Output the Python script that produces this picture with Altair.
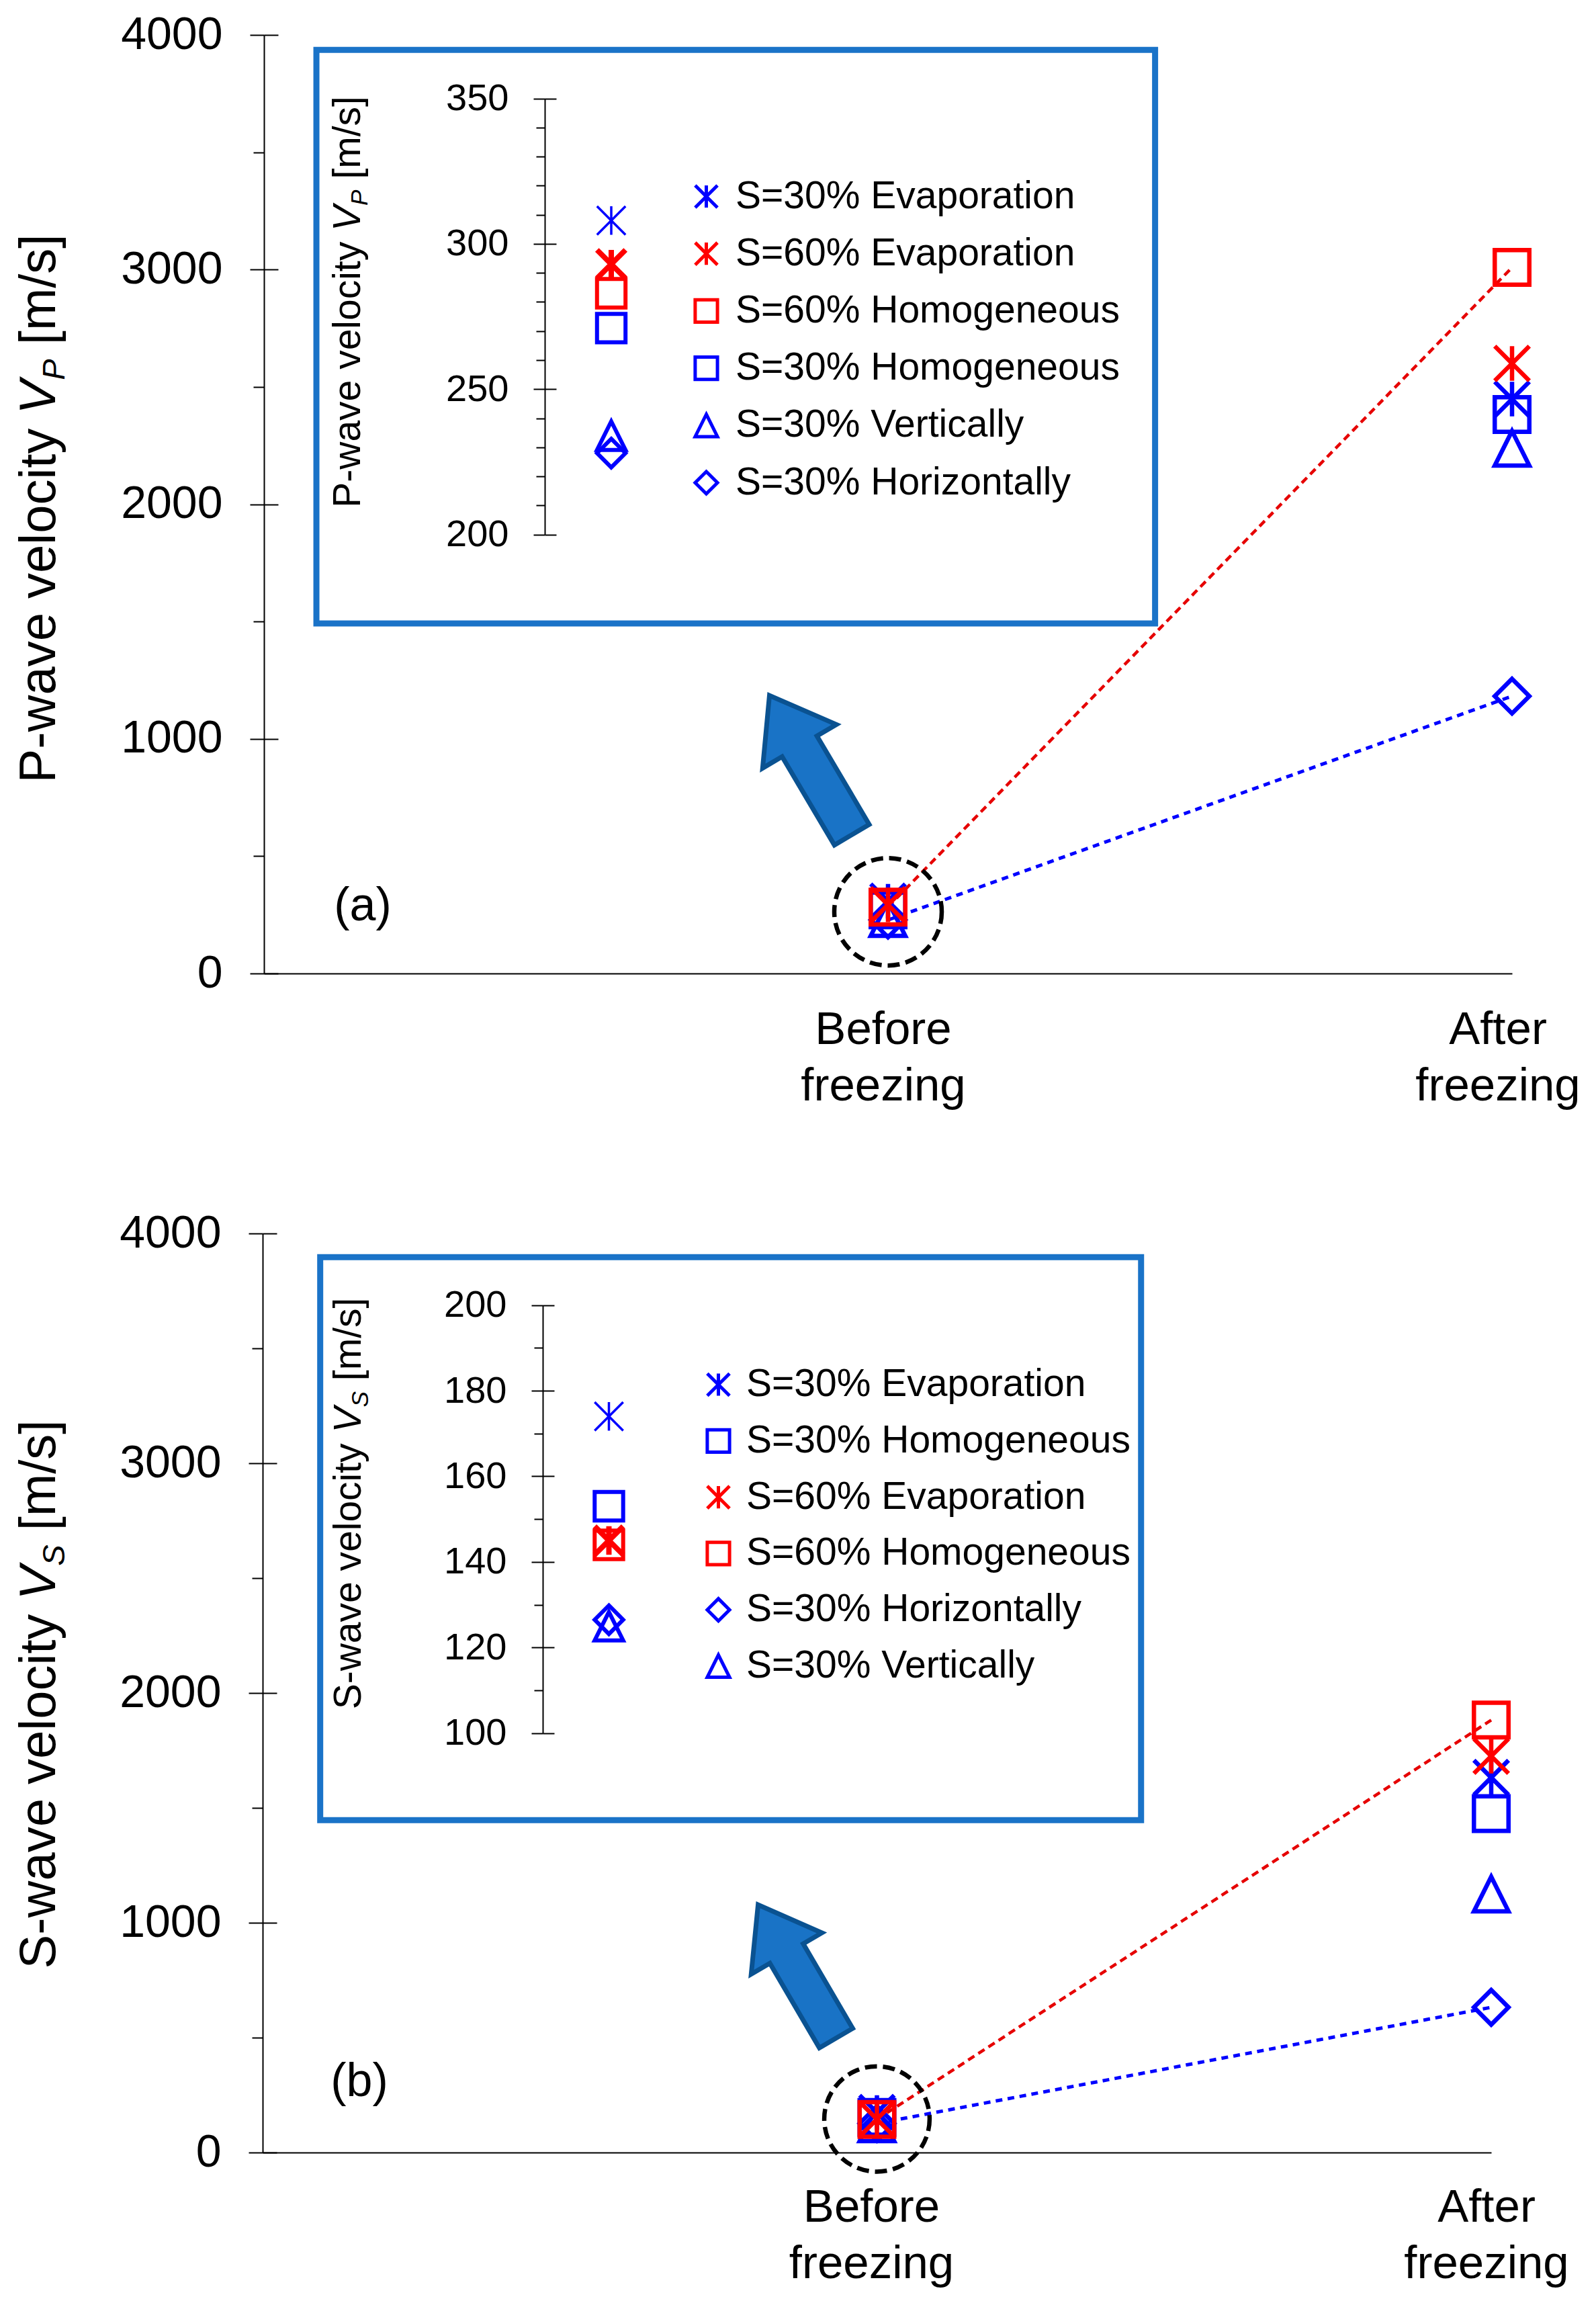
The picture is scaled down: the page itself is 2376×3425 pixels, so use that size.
import altair as alt
import pandas as pd

FONT = "Liberation Sans"
BLUE = "#0000FF"
RED = "#FF0000"
BOX = "#1A73C8"
ARROW_FILL = "#1973C6"
ARROW_EDGE = "#0A5291"

# ---------------- data ----------------
STAGES = ["Before\nfreezing", "After\nfreezing"]

SERIES_A = ["S=30% Evaporation", "S=60% Evaporation", "S=60% Homogeneous",
            "S=30% Homogeneous", "S=30% Vertically", "S=30% Horizontally"]
VP_BEFORE = [308, 293, 283, 271, 234, 228]
VP_AFTER = [2448, 2600, 3009, 2382, 2238, 1182]

SERIES_B = ["S=30% Evaporation", "S=30% Homogeneous", "S=60% Evaporation",
            "S=60% Homogeneous", "S=30% Horizontally", "S=30% Vertically"]
VS_BEFORE = [174, 153, 145, 144, 126.5, 125]
VS_AFTER = [1632, 1475, 1725, 1882, 632, 1125]

LINKED = ["S=60% Homogeneous", "S=30% Horizontally"]

# ---------------- styles ----------------
ASTER = "M0,-1L0,1M-1,-1L1,1M-1,1L1,-1"
TRI = "M0,-1L1,1L-1,1Z"
DIAM = "M0,-1L1,0L0,1L-1,0Z"
ARROW = "M0,-1L0.53,-0.27L0.25,-0.27L0.25,1L-0.25,1L-0.25,-0.27L-0.53,-0.27Z"


def shape_of(s):
    if "Evaporation" in s:
        return ASTER
    if "Homogeneous" in s:
        return "square"
    if "Vertically" in s:
        return TRI
    return DIAM


ARIAL = {'P': 0.667, 'S': 0.667, 'V': 0.667, '-': 0.333, 'w': 0.722, 'a': 0.556,
         'v': 0.5, 'e': 0.556, ' ': 0.278, 'l': 0.222, 'o': 0.556, 'c': 0.5,
         'i': 0.222, 't': 0.278, 'y': 0.5, '[': 0.278, 'm': 0.833, '/': 0.278,
         's': 0.5, ']': 0.278}


def tw(s, f):
    return sum(ARIAL[c] for c in s) * f


W, H = 1858, 3152

PANELS = {
    "a": dict(series=SERIES_A, before=VP_BEFORE, after=VP_AFTER, wave="P",
              xr=[0, 1858], yr=[1397, 0], yaxis_x=0, xoff=-(H - 1397),
              idom=[200, 350], imaj=[200, 250, 300, 350],
              imin=[v for v in range(210, 350, 10) if v % 50],
              iyr=[743.6, 94.6], iaxis_x=418, ix=517,
              legend=(630, 212, 27.2, 15),
              box=(0.084, 1.428, 1492, 3936),
              circle=(1.0, 263, 25600),
              arrow=(0.876, 888, 329.4, 58000),
              tag=("(a)", 147, 1297),
              title=(705, -311), ititle=(397.4, 143),
              cat_y=1502, cat_dx=(-7, -21)),
    "b": dict(series=SERIES_B, before=VS_BEFORE, after=VS_AFTER, wave="S",
              xr=[-2, 1827], yr=[3152, 1784], yaxis_x=-2, xoff=0,
              idom=[100, 200], imaj=[100, 120, 140, 160, 180, 200],
              imin=[v for v in range(110, 200, 10) if v % 20],
              iyr=[2527.8, 1890.6], iaxis_x=415, ix=513.5,
              legend=(648, 1980.5, 25.8, 13),
              box=(0.0937, 1.43, 1447, 3897),
              circle=(1.0, 146, 24600),
              arrow=(0.870, 788, 329.7, 52900),
              tag=("(b)", 142, 3047),
              title=(2470, -311), ititle=(2186, 144),
              cat_y=3255, cat_dx=(-8, -7)),
}

ONE = alt.Data(values=[{}])


def text_layer(text, x, y, size, angle=0, align="left", baseline="alphabetic", style="normal"):
    return alt.Chart(ONE).mark_text(
        text=text, font=FONT, fontSize=size, fontStyle=style, angle=angle,
        align=align, baseline=baseline, color="black"
    ).encode(x=alt.value(x), y=alt.value(y))


def rotated_title(wave, center_y, base_x, f):
    lead = f"{wave}-wave velocity"
    unit = "[m/s]"
    fs = 0.62 * f
    sp = tw(" ", f)
    w1 = tw(lead, f)
    wv = tw("V", f)
    wsub = tw(wave, fs)
    w4 = tw(unit, f)
    total = w1 + sp + wv + wsub + sp + w4
    y1 = center_y + total / 2
    y2 = y1 - w1 - sp
    y3 = y2 - wv
    y4 = y3 - wsub - sp
    return [
        text_layer(lead, base_x, y1, f, angle=270),
        text_layer("V", base_x, y2, f, angle=270, style="italic"),
        text_layer(wave, base_x + 0.19 * f, y3, fs, angle=270, style="italic"),
        text_layer(unit, base_x, y4, f, angle=270),
    ]


def build_panel(P):
    series = P["series"]
    xsc = alt.Scale(domain=[0, 2], range=P["xr"], nice=False, zero=False)
    ysc = alt.Scale(domain=[0, 4000], range=P["yr"], nice=False, zero=False)
    isc = alt.Scale(domain=P["idom"], range=P["iyr"], nice=False, zero=False)
    colors = [RED if "60%" in s else BLUE for s in series]
    shapes = [shape_of(s) for s in series]

    rows = []
    for s, b, a in zip(series, P["before"], P["after"]):
        rows.append(dict(series=s, stage=STAGES[0], pos=1, value=b))
        rows.append(dict(series=s, stage=STAGES[1], pos=2, value=a))
    df = pd.DataFrame(rows)
    df["red"] = df["series"].str.contains("60%")
    df = df.sort_values("red", kind="stable").drop(columns="red")
    dfb = df[df["pos"] == 1]

    def X():
        return alt.X("pos:Q", scale=xsc, axis=None)

    def Y():
        return alt.Y("value:Q", scale=ysc, axis=None)

    col_scale = alt.Scale(domain=series, range=colors)
    shp_scale = alt.Scale(domain=series, range=shapes)

    layers = []
    # connecting dashed lines
    layers.append(alt.Chart(df).transform_filter(alt.datum.series == LINKED[0]).mark_line(
        color="#E60000", strokeWidth=4.5, strokeDash=[11, 7]).encode(x=X(), y=Y()))
    layers.append(alt.Chart(df).transform_filter(alt.datum.series == LINKED[1]).mark_line(
        color=BLUE, strokeWidth=5, strokeDash=[10, 8]).encode(x=X(), y=Y()))

    # dashed highlight circle
    cx, cy, cs = P["circle"]
    layers.append(alt.Chart(pd.DataFrame({"pos": [cx], "value": [cy]})).mark_point(
        shape="circle", size=cs, filled=False, color="black", strokeWidth=6.5,
        strokeDash=[18, 9], opacity=1).encode(x=X(), y=Y()))

    # block arrow
    ax, ay, aang, asz = P["arrow"]
    layers.append(alt.Chart(pd.DataFrame({"pos": [ax], "value": [ay]})).mark_point(
        shape=ARROW, size=asz, filled=True, fill=ARROW_FILL, stroke=ARROW_EDGE,
        strokeWidth=7, strokeJoin="miter", angle=aang, opacity=1).encode(x=X(), y=Y()))

    # main markers + main axes
    layers.append(alt.Chart(df).mark_point(filled=False, size=2650, strokeWidth=6.5, opacity=1).encode(
        x=alt.X("pos:Q", scale=xsc, axis=alt.Axis(
            orient="bottom", offset=P["xoff"], domain=True, domainColor="black", domainWidth=2,
            ticks=False, labels=False, grid=False, title=None, zindex=1)),
        y=alt.Y("value:Q", scale=ysc, axis=alt.Axis(
            orient="left", offset=-P["yaxis_x"], values=[0, 1000, 2000, 3000, 4000], format="d",
            tickSize=21, tickWidth=2, tickColor="black", domainColor="black", domainWidth=2,
            labelFont=FONT, labelFontSize=68, labelColor="black", labelPadding=41,
            grid=False, title=None, zindex=1)),
        color=alt.Color("series:N", scale=col_scale, legend=None),
        shape=alt.Shape("series:N", scale=shp_scale, legend=None),
    ))
    # minor ticks (outside) and inner halves of major ticks
    layers.append(alt.Chart(df).mark_point(opacity=0).encode(
        x=X(), y=alt.Y("value:Q", scale=ysc, axis=alt.Axis(
            orient="left", offset=-P["yaxis_x"], values=[500, 1500, 2500, 3500],
            tickSize=16, tickWidth=2, tickColor="black", labels=False, domain=False,
            grid=False, title=None, zindex=1))))
    layers.append(alt.Chart(df).mark_point(opacity=0).encode(
        x=X(), y=alt.Y("value:Q", scale=ysc, axis=alt.Axis(
            orient="right", offset=P["yaxis_x"] - W, values=[0, 1000, 2000, 3000, 4000],
            tickSize=21, tickWidth=2, tickColor="black", labels=False, domain=False,
            grid=False, title=None, zindex=1))))

    # inset frame
    bx0, bx1, by0, by1 = P["box"]
    layers.append(alt.Chart(pd.DataFrame({"x0": [bx0], "x1": [bx1], "y0": [by0], "y1": [by1]})).mark_rect(
        fill="white", stroke=BOX, strokeWidth=9).encode(
        x=alt.X("x0:Q", scale=xsc, axis=None), x2=alt.X2("x1"),
        y=alt.Y("y0:Q", scale=ysc, axis=None), y2=alt.Y2("y1")))

    # inset markers, axis and legend
    lx, ly, rpad, loff = P["legend"]
    leg = alt.Legend(orient="none", legendX=lx, legendY=ly, direction="vertical", title=None,
                     labelFont=FONT, labelFontSize=57, labelColor="black", labelLimit=2000,
                     labelOffset=loff, symbolSize=1100, symbolStrokeWidth=5,
                     rowPadding=rpad, padding=0)
    sw = {"condition": [{"test": "datum.series === 'S=60% Evaporation'", "value": 8},
                        {"test": "datum.series === 'S=30% Evaporation'", "value": 3.5}],
          "value": 6}
    layers.append(alt.Chart(dfb).mark_point(filled=False, size=1800, opacity=1).encode(
        x=alt.value(P["ix"]),
        y=alt.Y("value:Q", scale=isc, axis=alt.Axis(
            orient="left", offset=-P["iaxis_x"], values=P["imaj"], format="d",
            tickSize=17, tickWidth=2, tickColor="black", domainColor="black", domainWidth=2,
            labelFont=FONT, labelFontSize=56, labelColor="black", labelPadding=37,
            grid=False, title=None, zindex=1)),
        color=alt.Color("series:N", scale=col_scale, legend=leg),
        shape=alt.Shape("series:N", scale=shp_scale, legend=leg),
        strokeWidth=sw,
    ))
    layers.append(alt.Chart(dfb).mark_point(opacity=0).encode(
        x=alt.value(P["ix"]), y=alt.Y("value:Q", scale=isc, axis=alt.Axis(
            orient="left", offset=-P["iaxis_x"], values=P["imin"],
            tickSize=13, tickWidth=2, tickColor="black", labels=False, domain=False,
            grid=False, title=None, zindex=1))))
    layers.append(alt.Chart(dfb).mark_point(opacity=0).encode(
        x=alt.value(P["ix"]), y=alt.Y("value:Q", scale=isc, axis=alt.Axis(
            orient="right", offset=P["iaxis_x"] - W, values=P["imaj"],
            tickSize=17, tickWidth=2, tickColor="black", labels=False, domain=False,
            grid=False, title=None, zindex=1))))

    # category labels
    for i, stage in enumerate(STAGES):
        layers.append(alt.Chart(pd.DataFrame({"pos": [i + 1], "label": [stage]})).mark_text(
            font=FONT, fontSize=69, lineBreak="\n", lineHeight=84, align="center",
            baseline="alphabetic", color="black", dx=P["cat_dx"][i]).encode(
            x=alt.X("pos:Q", scale=xsc, axis=None), y=alt.value(P["cat_y"]), text="label:N"))

    # panel tag
    t, tx, ty = P["tag"]
    layers.append(text_layer(t, tx, ty, 70, align="center", baseline="middle"))

    # axis titles (main and inset)
    layers += rotated_title(P["wave"], P["title"][0], P["title"][1], 76)
    layers += rotated_title(P["wave"], P["ititle"][0], P["ititle"][1], 57)
    return layers


all_layers = build_panel(PANELS["a"]) + build_panel(PANELS["b"])

chart = alt.layer(*all_layers).resolve_scale(
    x="independent", y="independent", color="independent", shape="independent"
).properties(
    width=W, height=H,
    autosize=alt.AutoSizeParams(type="none"),
    padding={"left": 385, "top": 44, "right": 115, "bottom": 205},
).configure(font=FONT, view=alt.ViewConfig(strokeWidth=0))

chart.save("out.html", embed_options={"renderer": "svg", "actions": False})
